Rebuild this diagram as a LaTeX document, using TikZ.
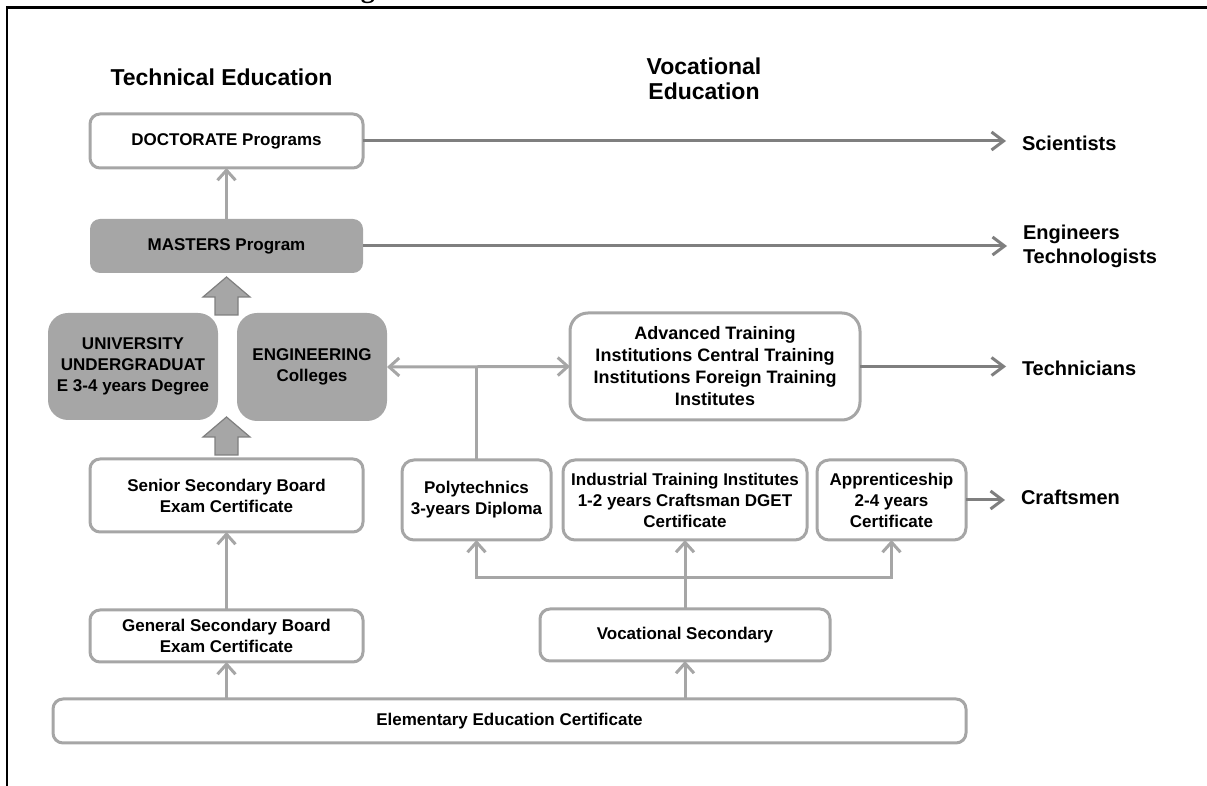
\documentclass[tikz,border=0pt]{standalone}
\usepackage{fontspec}
\setmainfont{Liberation Sans}
\newfontfamily\titlefont{Liberation Serif}
\usetikzlibrary{arrows.meta}
\definecolor{lgray}{HTML}{A6A6A6}
\definecolor{mgray}{HTML}{A6A6A6}
\definecolor{dgray}{HTML}{7F7F7F}
\tikzset{
  every node/.style={inner sep=0pt, outer sep=0pt},
  boxtxt/.style={font=\bfseries\fontsize{8.5}{10.5}\selectfont, align=center, text=black},
  wbox/.style={boxtxt, draw=lgray, line width=1.5pt, fill=white, rounded corners=5pt},
  gbox/.style={boxtxt, fill=mgray, rounded corners=5pt},
  conn/.style={draw=lgray, line width=1.5pt, -{Straight Barb[length=5pt,width=9pt]}},
  dconn/.style={draw=lgray, line width=1.5pt, {Straight Barb[length=5pt,width=9pt]}-{Straight Barb[length=5pt,width=9pt]}},
  plainline/.style={draw=lgray, line width=1.5pt},
  outarr/.style={draw=dgray, line width=1.5pt, -{Straight Barb[length=6pt,width=9pt]}, shorten >=8pt},
  outtxt/.style={font=\bfseries\fontsize{10}{12}\selectfont, align=left, anchor=west},
  head/.style={font=\bfseries\fontsize{11.5}{12.5}\selectfont, align=center},
  blockarrow/.style={fill=mgray, draw=dgray, line width=0.6pt},
  pics/uparrow/.style={code={\draw[blockarrow] (0,0) -- (23.5,20) -- (11.5,20) -- (11.5,38) -- (-11.5,38) -- (-11.5,20) -- (-23.5,20) -- cycle;}},
}
\begin{document}
\begin{tikzpicture}[x=0.5pt,y=-0.5pt]
\useasboundingbox (0,0) rectangle (1207,786);
% title (cut off by the page top, as in the reference)
\node[font=\titlefont\bfseries\fontsize{14}{16}\selectfont, anchor=base west] (title) at (336,-2) {Figure 3: Structure of Education in India};
% frame
\draw[line width=1.35pt] (7,786) -- (7,7.3) -- (1207,7.3);
% headings
\node[head] (th) at (221.5,77.5) {Technical Education};
\node[head] (vh) at (704,79) {Vocational\\Education};
% boxes
\node[wbox, minimum width=136.5pt, minimum height=27pt] (doc) at (226.5,141) {DOCTORATE Programs};
\node[gbox, minimum width=136.5pt, minimum height=27pt] (mas) at (226.5,246) {MASTERS Program};
\node[gbox, rounded corners=10pt, minimum width=85pt, minimum height=53.5pt] (uni) at (133,366.5) {UNIVERSITY\\UNDERGRADUAT\\E 3-4 years Degree};
\node[gbox, rounded corners=10pt, minimum width=75pt, minimum height=54pt] (eng) at (312,367) {ENGINEERING\\Colleges};
\node[wbox, rounded corners=9pt, minimum width=145pt, minimum height=53.5pt, font=\bfseries\fontsize{9}{11}\selectfont] (adv) at (715,366.5) {Advanced Training\\Institutions Central Training\\Institutions Foreign Training\\Institutes};
\node[wbox, minimum width=136.5pt, minimum height=36.5pt] (sen) at (226.5,495.5) {Senior Secondary Board\\Exam Certificate};
\node[wbox, rounded corners=6pt, minimum width=74.5pt, minimum height=40pt] (poly) at (476.5,500) {Polytechnics\\3-years Diploma};
\node[wbox, rounded corners=6pt, minimum width=122pt, minimum height=40pt] (iti) at (685,500) {Industrial Training Institutes\\1-2 years Craftsman DGET\\Certificate};
\node[wbox, rounded corners=6pt, minimum width=74.5pt, minimum height=40pt] (app) at (891.5,500) {Apprenticeship\\2-4 years\\Certificate};
\node[wbox, minimum width=136.5pt, minimum height=26pt] (gen) at (226.5,636) {General Secondary Board\\Exam Certificate};
\node[wbox, minimum width=145pt, minimum height=26pt] (voc) at (685,635) {Vocational Secondary};
\node[wbox, minimum width=456.5pt, minimum height=22pt] (ele) at (509.5,721) {Elementary Education Certificate};
% outcomes
\node[outtxt] (sci) at (1022,143) {Scientists};
\node[outtxt] (engt) at (1023,246) {Engineers\\Technologists};
\node[outtxt] (tech) at (1022,368) {Technicians};
\node[outtxt] (craft) at (1021,497) {Craftsmen};
% block arrows
\path (mas.south) ++(0,4) pic {uparrow};
\path (sen.north) ++(0,-42) pic {uparrow};
% connectors
\draw[conn] (mas.north) -- (doc.south);
\draw[conn] (gen.north) -- (sen.south);
\draw[conn] (gen.south |- ele.north) -- (gen.south);
\draw[conn] (voc.south |- ele.north) -- (voc.south);
\draw[conn] (voc.north) -- (iti.south);
\coordinate (jn) at (685,578);
\draw[conn] (jn) -| (poly.south);
\draw[conn] (jn) -| (app.south);
\draw[dconn] (eng.east) -- (adv.west);
\draw[plainline] (poly.north) -- (poly.north |- eng.east);
% outcome arrows
\draw[outarr] (doc.east) -- (doc.east -| sci.west);
\draw[outarr] (mas.east) -- (mas.east -| engt.west);
\draw[outarr] (adv.east) -- (adv.east -| tech.west);
\draw[outarr] (app.east) -- (app.east -| craft.west);
\end{tikzpicture}
\end{document}
